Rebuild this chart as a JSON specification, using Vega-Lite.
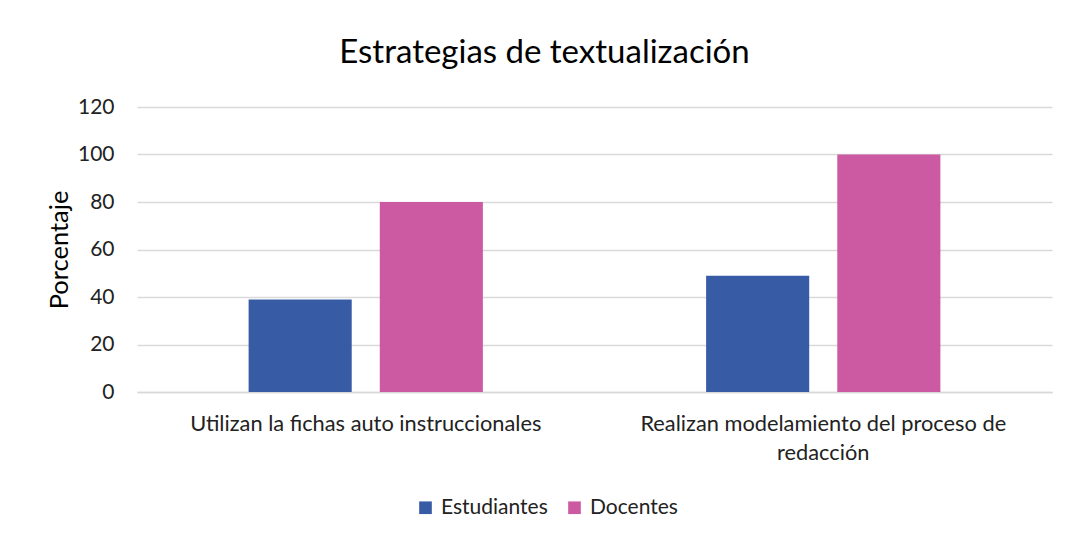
{
  "$schema": "https://vega.github.io/schema/vega-lite/v6.json",
  "autosize": {"type": "none"},
  "width": 915,
  "height": 285,
  "padding": {"left": 137, "top": 107, "right": 18, "bottom": 147},
  "background": "white",
  "title": {
    "text": "Estrategias de textualización",
    "font": "Lato",
    "fontSize": 33,
    "fontWeight": "normal",
    "color": "#000000",
    "anchor": "middle",
    "dx": -50,
    "offset": 26
  },
  "data": {
    "values": [
      {"estrategia": "Utilizan la fichas auto instruccionales", "grupo": "Estudiantes", "porcentaje": 39},
      {"estrategia": "Utilizan la fichas auto instruccionales", "grupo": "Docentes", "porcentaje": 80},
      {"estrategia": "Realizan modelamiento del proceso de redacción", "grupo": "Estudiantes", "porcentaje": 49},
      {"estrategia": "Realizan modelamiento del proceso de redacción", "grupo": "Docentes", "porcentaje": 100}
    ]
  },
  "mark": {"type": "bar"},
  "encoding": {
    "x": {
      "field": "estrategia",
      "type": "nominal",
      "sort": null,
      "scale": {"paddingInner": 0, "paddingOuter": 0},
      "axis": {
        "title": null,
        "labelAngle": 0,
        "ticks": false,
        "domain": true,
        "domainColor": "#d9d9d9",
        "domainWidth": 1.5,
        "labelFont": "Lato",
        "labelFontSize": 21.8,
        "labelColor": "#222222",
        "labelPadding": 21,
        "labelLineHeight": 29,
        "labelLimit": 600,
        "labelExpr": "datum.label == 'Realizan modelamiento del proceso de redacción' ? ['Realizan modelamiento del proceso de', 'redacción'] : datum.label"
      }
    },
    "xOffset": {
      "field": "grupo",
      "type": "nominal",
      "sort": ["Estudiantes", "Docentes"],
      "scale": {"paddingInner": 0.214, "paddingOuter": 0.851}
    },
    "y": {
      "field": "porcentaje",
      "type": "quantitative",
      "scale": {"domain": [0, 120]},
      "axis": {
        "title": "Porcentaje",
        "titleFont": "Lato",
        "titleFontSize": 25.5,
        "titleFontWeight": "normal",
        "titleColor": "#000000",
        "titlePadding": 5,
        "values": [0, 20, 40, 60, 80, 100, 120],
        "ticks": false,
        "domain": false,
        "grid": true,
        "gridColor": "#d9d9d9",
        "gridWidth": 1.5,
        "labelFont": "Lato",
        "labelFontSize": 21,
        "labelColor": "#222222",
        "labelPadding": 23
      }
    },
    "color": {
      "field": "grupo",
      "type": "nominal",
      "sort": ["Estudiantes", "Docentes"],
      "scale": {"domain": ["Estudiantes", "Docentes"], "range": ["#375CA5", "#CC5AA2"]},
      "legend": {
        "title": null,
        "orient": "none",
        "direction": "horizontal",
        "legendX": 278,
        "legendY": 390,
        "symbolType": "square",
        "symbolSize": 160,
        "symbolStrokeWidth": 0,
        "labelFont": "Lato",
        "labelFontSize": 21,
        "labelColor": "#222222",
        "columnPadding": 16,
        "labelOffset": 5
      }
    }
  },
  "config": {"view": {"stroke": null}}
}
